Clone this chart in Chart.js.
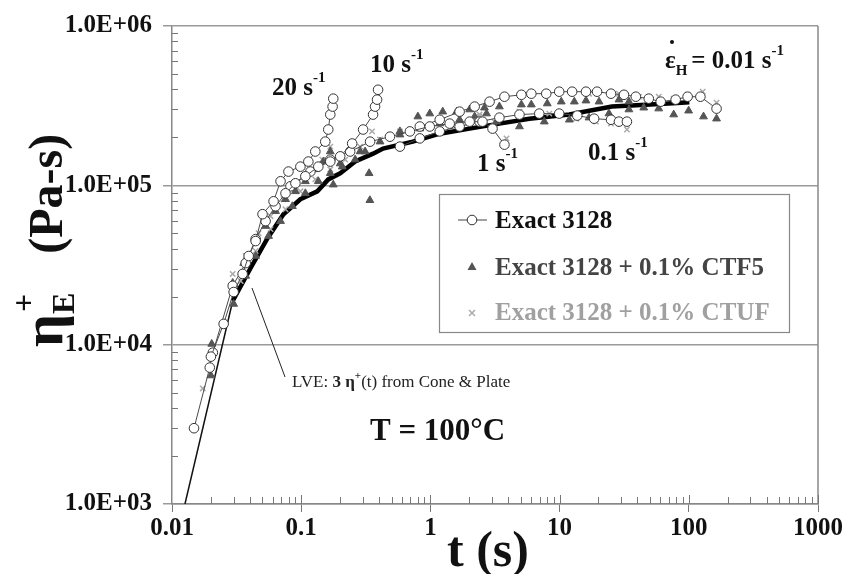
<!DOCTYPE html>
<html>
<head>
<meta charset="utf-8">
<script src="https://cdn.jsdelivr.net/npm/chart.js@4.4.0/dist/chart.umd.min.js"></script>
<style>
html, body { margin: 0; padding: 0; background: #fff; }
canvas { display: block; }
</style>
</head>
<body>
<canvas id="c" width="845" height="574"></canvas>
<script>
// axis ticks
const xMajor = [0.01, 0.1, 1, 10, 100, 1000]
const xTickLabels = ["0.01", "0.1", "1", "10", "100", "1000"]
const yMajor = [1e3, 1e4, 1e5, 1e6]
const yTickLabels = ["1.0E+03", "1.0E+04", "1.0E+05", "1.0E+06"]

// [t (s), eta (Pa-s)] -- Exact 3128, one list per strain rate
const exact20 = [[0.0148,2990],[0.0196,7180],[0.0200,8410],[0.0251,13500],[0.0300,21400],[0.0352,27800],[0.0392,36000],[0.0444,44700],[0.0502,65900],[0.0611,79400],[0.0692,106000],[0.0797,122000],[0.0986,131000],[0.1136,141000],[0.1286,163000],[0.1536,188000],[0.162,224000],[0.1679,278000],[0.175,312000],[0.1771,350000]]
const exact10 = [[0.0207,8910],[0.0295,23400],[0.0372,32500],[0.0444,46000],[0.0530,59600],[0.0633,73900],[0.0756,89100],[0.0902,103000],[0.1077,114000],[0.1357,131000],[0.1679,141000],[0.2004,152000],[0.248,183000],[0.3015,224000],[0.36,278000],[0.373,312000],[0.3864,345000],[0.3934,398000]]
const exact1 = [[0.0826,98600],[0.1178,122000],[0.1679,145000],[0.2393,163000],[0.3413,188000],[0.4864,202000],[0.694,218000],[0.989,234000],[1.41,244000],[2.012,251000],[2.53,251000],[3.025,227000],[3.742,180000]]
const exact01 = [[0.581,175000],[0.828,197000],[1.181,218000],[1.683,234000],[2.40,251000],[3.42,266000],[4.89,278000],[6.96,282000],[9.93,282000],[13.7,274000],[18.5,262000],[25.0,258000],[28.8,251000],[33.2,251000]]
const exact001 = [[0.828,234000],[1.181,258000],[1.683,290000],[2.20,312000],[2.87,335000],[3.742,360000],[5.06,370000],[6.04,376000],[7.88,376000],[9.93,387000],[12.5,387000],[16.0,387000],[19.5,387000],[25.0,376000],[31.5,370000],[38.9,360000],[49.0,350000],[60.6,335000],[79.1,345000],[97.9,360000],[123,360000],[164,303000]]

// Exact 3128 + 0.1% CTF5
const ctf20 = [[0.0200,6400],[0.0203,10100],[0.0295,24400],[0.0359,32500],[0.0444,44700],[0.0530,55500],[0.0633,68800],[0.0756,81800],[0.0902,91700],[0.1077,106000],[0.1286,126000],[0.1483,141000],[0.1679,163000],[0.1771,101000]]
const ctf10 = [[0.0200,8530],[0.0300,18000],[0.0372,27000],[0.0444,36000],[0.0559,48000],[0.0692,59600],[0.0855,73900],[0.1077,89100],[0.1357,106000],[0.1679,119000],[0.2077,131000],[0.2617,145000],[0.3124,163000],[0.3354,119000],[0.34,80600]]
const ctf1 = [[0.2004,137000],[0.2858,163000],[0.4076,188000],[0.581,208000],[0.828,227000],[1.181,244000],[1.683,258000],[2.20,270000],[2.72,282000],[3.25,251000]]
const ctf01 = [[0.581,218000],[0.80,270000],[0.989,282000],[1.246,290000],[1.597,290000],[2.012,299000],[2.62,307000],[3.42,312000],[5.06,321000],[6.04,321000],[8.03,326000],[10.3,335000],[13.0,335000],[16.0,340000],[20.2,335000],[28.8,345000],[34.4,335000]]
const ctf001 = [[4.89,234000],[7.61,251000],[11.9,258000],[16.9,266000],[24.1,282000],[34.4,299000],[44.8,307000],[58.5,303000],[76.4,278000],[99.7,294000],[130,270000],[164,262000]]

// Exact 3128 + 0.1% CTUF
const ctuf20 = [[0.0173,5310],[0.0295,27800],[0.0372,36000],[0.0468,50100],[0.0579,64000],[0.0729,81800],[0.0902,98600],[0.1178,122000],[0.1457,145000],[0.1679,175000]]
const ctuf10 = [[0.0340,25100],[0.0444,38700],[0.0579,53100],[0.0756,70800],[0.0986,91700],[0.1286,109000],[0.1679,126000],[0.219,145000],[0.2858,175000],[0.3536,218000]]
const ctuf1 = [[0.4076,194000],[0.581,218000],[0.828,234000],[1.181,251000],[1.683,266000],[2.40,270000],[3.13,251000],[3.88,197000]]
const ctuf01 = [[2.40,278000],[4.89,290000],[8.32,282000],[13.4,262000],[19.1,251000],[25.0,244000],[33.2,224000]]
const ctuf001 = [[9.93,387000],[16.9,376000],[28.8,376000],[41.1,360000],[58.5,360000],[76.4,350000],[97.9,370000],[128,387000],[164,330000]]

// LVE: 3 eta+(t) from cone & plate
const lveStart = [[0.0126,1000],[0.0295,18800]]
const lve = [[0.0295,18800],[0.0406,30300],[0.0549,46600],[0.0729,65900],[0.0986,81800],[0.1333,91700],[0.162,109000],[0.2004,119000],[0.2617,141000],[0.36,158000],[0.43,170000],[0.731,188000],[1.181,211000],[2.012,227000],[3.42,244000],[5.83,262000],[11.9,278000],[25.4,312000],[46.5,321000],[88,330000],[101,332000]]

const serif = "'Liberation Serif', 'Times New Roman', serif"

function pts(arr){
    return arr.map(p => ({x: p[0], y: p[1]}))
}

function circles(arr){
    return {data: pts(arr), showLine: true, borderColor: "#4a4a4a", borderWidth: 1,
        pointStyle: "circle", pointRadius: 4.8, pointBackgroundColor: "#fff",
        pointBorderColor: "#333", pointBorderWidth: 1}
}
function triangles(arr){
    return {data: pts(arr), showLine: false, pointStyle: "triangle", pointRadius: 4.5,
        pointBackgroundColor: "#555", pointBorderColor: "#555", pointBorderWidth: 1}
}
function crosses(arr){
    return {data: pts(arr), showLine: false, pointStyle: "crossRot", pointRadius: 3.8,
        pointBorderColor: "#aaa", pointBorderWidth: 1.5}
}

// draws a run of text pieces: [text, size, dy, weight, color]
function richText(ctx, x, y, parts){
    for (const p of parts){
        ctx.font = (p[3] || "bold") + " " + p[1] + "px " + serif
        ctx.fillStyle = p[4] || "#111"
        ctx.fillText(p[0], x, y + (p[2] || 0))
        x += ctx.measureText(p[0]).width
    }
    return x
}

const decor = {
    id: "decor",
    afterDraw(chart){
        const ctx = chart.ctx
        const xs = chart.scales.x
        const ys = chart.scales.y
        const a = chart.chartArea
        ctx.save()

        // right border
        ctx.strokeStyle = "#888"
        ctx.lineWidth = 1.5
        ctx.beginPath()
        ctx.moveTo(a.right, a.top)
        ctx.lineTo(a.right, a.bottom)
        ctx.stroke()

        // minor ticks
        ctx.strokeStyle = "#777"
        ctx.lineWidth = 1
        ctx.beginPath()
        for (let d = -2; d < 3; d++){
            for (let k = 2; k < 10; k++){
                const px = Math.round(xs.getPixelForValue(k * Math.pow(10, d))) + 0.5
                ctx.moveTo(px, a.bottom)
                ctx.lineTo(px, a.bottom - 7)
            }
            const mx = Math.round(xs.getPixelForValue(Math.pow(10, d + 1))) + 0.5
            ctx.moveTo(mx, a.bottom)
            ctx.lineTo(mx, a.bottom - 9)
        }
        for (let d = 3; d < 6; d++){
            for (let k = 2; k < 10; k++){
                const py = Math.round(ys.getPixelForValue(k * Math.pow(10, d))) + 0.5
                ctx.moveTo(a.left, py)
                ctx.lineTo(a.left + 6, py)
            }
        }
        ctx.stroke()

        ctx.textBaseline = "alphabetic"
        ctx.textAlign = "left"

        // rate labels
        richText(ctx, 272, 95, [["20 s", 25], ["-1", 15, -13]])
        richText(ctx, 370, 72, [["10 s", 25], ["-1", 15, -13]])
        richText(ctx, 477, 171, [["1 s", 25], ["-1", 15, -13]])
        richText(ctx, 588, 160, [["0.1 s", 25], ["-1", 15, -13]])
        let ex = richText(ctx, 665, 68, [["ε", 25]])
        ctx.beginPath()
        ctx.arc(672, 42, 2, 0, Math.PI * 2)
        ctx.fillStyle = "#111"
        ctx.fill()
        ex = richText(ctx, ex, 75, [["H", 15]])
        richText(ctx, ex + 4, 68, [["= 0.01 s", 25], ["-1", 15, -13]])

        // LVE note and leader line
        ctx.strokeStyle = "#222"
        ctx.lineWidth = 1
        ctx.beginPath()
        ctx.moveTo(252, 288)
        ctx.lineTo(285, 377)
        ctx.stroke()
        richText(ctx, 292, 387, [["LVE: ", 17, 0, "normal", "#222"], ["3 η", 17, 0, "bold", "#222"], ["+", 11, -8, "bold", "#222"], ["(t) from Cone & Plate", 17, 0, "normal", "#222"]])

        ctx.font = "bold 31px " + serif
        ctx.fillStyle = "#111"
        ctx.fillText("T = 100°C", 370, 440)

        // legend
        ctx.fillStyle = "#fff"
        ctx.fillRect(439, 194, 350, 138)
        ctx.strokeStyle = "#888"
        ctx.lineWidth = 1.2
        ctx.strokeRect(439.5, 194.5, 350, 138)
        ctx.strokeStyle = "#444"
        ctx.lineWidth = 1
        ctx.beginPath()
        ctx.moveTo(458, 220)
        ctx.lineTo(487, 220)
        ctx.stroke()
        ctx.beginPath()
        ctx.arc(472, 220, 4.8, 0, Math.PI * 2)
        ctx.fillStyle = "#fff"
        ctx.fill()
        ctx.strokeStyle = "#333"
        ctx.stroke()
        ctx.beginPath()
        ctx.moveTo(472, 262)
        ctx.lineTo(476.5, 270)
        ctx.lineTo(467.5, 270)
        ctx.closePath()
        ctx.fillStyle = "#555"
        ctx.fill()
        ctx.strokeStyle = "#aaa"
        ctx.lineWidth = 1.5
        ctx.beginPath()
        ctx.moveTo(469, 310); ctx.lineTo(475, 316)
        ctx.moveTo(475, 310); ctx.lineTo(469, 316)
        ctx.stroke()
        richText(ctx, 495, 228, [["Exact 3128", 25, 0, "bold", "#111"]])
        richText(ctx, 495, 275, [["Exact 3128 + 0.1% CTF5", 25, 0, "bold", "#444"]])
        richText(ctx, 495, 320, [["Exact 3128 + 0.1% CTUF", 25, 0, "bold", "#a0a0a0"]])

        // axis titles
        ctx.font = "bold 50px " + serif
        ctx.fillStyle = "#111"
        ctx.textAlign = "center"
        ctx.fillText("t (s)", 488, 566)
        ctx.textAlign = "left"

        ctx.translate(62, 347)
        ctx.rotate(-Math.PI / 2)
        let tx = richText(ctx, 0, 0, [["η", 58]])
        richText(ctx, tx, 12, [["E", 32]])
        tx = richText(ctx, tx + 2, -28, [["+", 32]])
        richText(ctx, tx + 40, 0, [["(Pa-s)", 48]])
        ctx.restore()
    }
}

const tickFont = {family: serif, size: 25, weight: "bold"}

new Chart(document.getElementById("c"), {
    type: "scatter",
    data: {
        datasets: [
            circles(exact20), circles(exact10), circles(exact1), circles(exact01), circles(exact001),
            triangles(ctf20), triangles(ctf10), triangles(ctf1), triangles(ctf01), triangles(ctf001),
            crosses(ctuf20), crosses(ctuf10), crosses(ctuf1), crosses(ctuf01), crosses(ctuf001),
            {data: pts(lveStart), showLine: true, borderColor: "#111", borderWidth: 1.5, pointRadius: 0},
            {data: pts(lve), showLine: true, borderColor: "#000", borderWidth: 4.5, pointRadius: 0}
        ]
    },
    options: {
        responsive: false,
        animation: false,
        layout: {padding: {top: 24, right: 26, left: 0, bottom: 0}},
        plugins: {legend: {display: false}, tooltip: {enabled: false}},
        scales: {
            x: {
                type: "logarithmic", min: 0.01, max: 1000,
                afterBuildTicks: s => { s.ticks = xMajor.map(v => ({value: v})) },
                afterFit: s => { s.height = 70 },
                ticks: {font: tickFont, color: "#111", padding: 2, maxRotation: 0, autoSkip: false,
                    callback: (v, i) => xTickLabels[i]},
                grid: {drawOnChartArea: false, drawTicks: true, tickLength: 8, color: "#777"},
                border: {display: true, color: "#888", width: 1.5}
            },
            y: {
                type: "logarithmic", min: 1000, max: 1e6,
                afterBuildTicks: s => { s.ticks = yMajor.map(v => ({value: v})) },
                afterFit: s => { s.width = 172 },
                ticks: {font: tickFont, color: "#111", padding: 11, autoSkip: false,
                    callback: (v, i) => yTickLabels[i]},
                grid: {color: "#9a9a9a", lineWidth: 1.5, drawTicks: true, tickLength: 9},
                border: {display: true, color: "#888", width: 1.5}
            }
        }
    },
    plugins: [decor]
})
</script>
</body>
</html>
